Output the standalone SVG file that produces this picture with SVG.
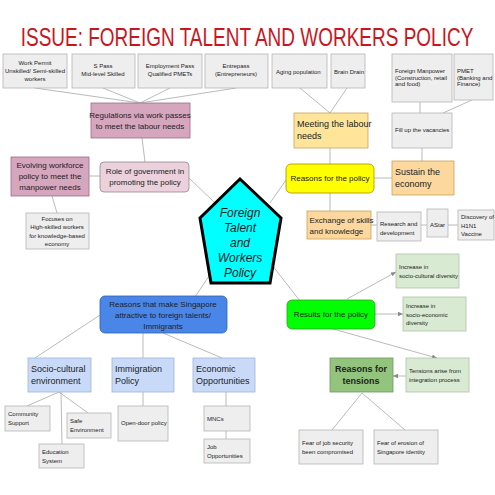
<svg xmlns="http://www.w3.org/2000/svg" width="495" height="495" viewBox="0 0 495 495">
<defs>
<style>
text{font-family:"Liberation Sans",Arial,sans-serif;fill:#222}
.s{font-size:6px}
.m{font-size:8px}
.l{font-size:9px}
.c{text-anchor:middle}
.g{fill:#eeeeee;stroke:#b5b5b5;stroke-width:0.8}
.pk{fill:#d5a6bd;stroke:#9c6d86;stroke-width:0.8}
.pl{fill:#ead1dc;stroke:#9c8590;stroke-width:0.8}
.or{fill:#fcd89e;stroke:#c9a35a;stroke-width:0.8}
.ye{fill:#ffe599;stroke:#c9a35a;stroke-width:0.8}
.lb{fill:#c9daf8;stroke:#9fb4d8;stroke-width:0.8}
.lg{fill:#d9ead3;stroke:#b0c2a8;stroke-width:0.8}
.cn line{stroke:#a8a8a8;stroke-width:0.8;fill:none}
</style>
<marker id="ah" markerWidth="6" markerHeight="6" refX="5" refY="3" orient="auto" markerUnits="userSpaceOnUse">
<path d="M0,0.8 L5,3 L0,5.2 z" fill="#888"/>
</marker>
</defs>
<rect width="495" height="495" fill="#ffffff"/>
<g transform="translate(247,46) scale(0.76,1)">
<text x="0" y="0" font-size="25" style="fill:#c8161e" class="c">ISSUE: FOREIGN TALENT AND WORKERS POLICY</text>
</g>

<g class="cn">
<line x1="35" y1="88" x2="140" y2="103"/>
<line x1="103" y1="88" x2="140" y2="103"/>
<line x1="170" y1="88" x2="140" y2="103"/>
<line x1="236" y1="88" x2="140" y2="103"/>
<line x1="142" y1="138" x2="145" y2="162"/>
<line x1="89" y1="176" x2="100" y2="176"/>
<line x1="52" y1="196" x2="57" y2="213"/>
<line x1="189" y1="178" x2="214" y2="202"/>
<line x1="300" y1="88" x2="330" y2="113"/>
<line x1="347" y1="88" x2="330" y2="113"/>
<line x1="330" y1="148" x2="330" y2="164"/>
<line x1="420" y1="102" x2="420" y2="113"/>
<line x1="472" y1="100" x2="443" y2="113"/>
<line x1="422" y1="148" x2="422" y2="161"/>
<line x1="374" y1="178" x2="392" y2="178"/>
<line x1="270" y1="203" x2="286" y2="180"/>
<line x1="330" y1="193" x2="330" y2="211"/>
<line x1="371" y1="225" x2="377" y2="225"/>
<line x1="421" y1="225" x2="427" y2="225"/>
<line x1="448" y1="225" x2="458" y2="225"/>
<line x1="272" y1="265" x2="300" y2="301"/>
<line x1="347" y1="299" x2="396" y2="272" marker-end="url(#ah)"/>
<line x1="375" y1="314" x2="403" y2="314" marker-end="url(#ah)"/>
<line x1="333" y1="329" x2="437" y2="358" marker-end="url(#ah)"/>
<line x1="406" y1="376" x2="393" y2="376" marker-end="url(#ah)"/>
<line x1="362" y1="393" x2="332" y2="430"/>
<line x1="362" y1="393" x2="405" y2="430"/>
<line x1="213" y1="270" x2="195" y2="297"/>
<line x1="100" y1="315" x2="35" y2="358"/>
<line x1="143" y1="333" x2="143" y2="358"/>
<line x1="163" y1="333" x2="222" y2="358"/>
<line x1="59" y1="392" x2="27" y2="406"/>
<line x1="59" y1="392" x2="88" y2="413"/>
<line x1="61" y1="392" x2="62" y2="444"/>
<line x1="143" y1="392" x2="143" y2="406"/>
<line x1="226" y1="392" x2="226" y2="406"/>
<line x1="226" y1="431" x2="226" y2="439"/>
</g>

<g id="work-permit"><rect class="g" x="3" y="54" width="64" height="34"/><text class="s c" x="35" y="65">Work Permit</text><text class="s c" x="35" y="73">Unskilled/ Semi-skilled</text><text class="s c" x="35" y="81">workers</text></g>
<g id="s-pass"><rect class="g" x="72" y="54" width="63" height="34"/><text class="s c" x="103" y="68">S Pass</text><text class="s c" x="103" y="76">Mid-level Skilled</text></g>
<g id="employment-pass"><rect class="g" x="138" y="54" width="64" height="34"/><text class="s c" x="170" y="68">Employment Pass</text><text class="s c" x="170" y="76">Qualified PMETs</text></g>
<g id="entrepass"><rect class="g" x="205" y="54" width="63" height="34"/><text class="s c" x="236" y="68">Entrepass</text><text class="s c" x="236" y="76">(Entrepreneurs)</text></g>
<g id="aging"><rect class="g" x="272" y="54" width="55" height="34"/><text class="s" x="276" y="74">Aging population</text></g>
<g id="brain-drain"><rect class="g" x="331" y="54" width="34" height="34"/><text class="s" x="334" y="74">Brain Drain</text></g>
<g id="foreign-manpower"><rect class="g" x="392" y="54" width="60" height="48"/><text class="s" x="395" y="73">Foreign Manpower</text><text class="s" x="395" y="79.5">(Construction, retail</text><text class="s" x="395" y="86">and food)</text></g>
<g id="pmet"><rect class="g" x="454" y="54" width="39" height="46"/><text class="s" x="457" y="73">PMET</text><text class="s" x="457" y="79.5">(Banking and</text><text class="s" x="457" y="86">Finance)</text></g>

<g id="regulations"><rect class="pk" x="91" y="103" width="99" height="35"/><text class="m c" x="140" y="118">Regulations via work passes</text><text class="m c" x="140" y="129">to meet the labour needs</text></g>
<g id="role"><rect class="pl" x="100" y="162" width="89" height="30" rx="4"/><text class="m c" x="145" y="174">Role of government in</text><text class="m c" x="145" y="185">promoting the policy</text></g>
<g id="evolving"><rect class="pk" x="11" y="157" width="78" height="39"/><text class="m c" x="50" y="168">Evolving workforce</text><text class="m c" x="50" y="179">policy to meet the</text><text class="m c" x="50" y="190">manpower needs</text></g>
<g id="focuses"><rect class="g" x="26" y="213" width="63" height="36"/><text class="s c" x="57" y="221">Focuses on</text><text class="s c" x="57" y="229">High-skilled workers</text><text class="s c" x="57" y="237.5">for  knowledge-based</text><text class="s c" x="57" y="246">economy</text></g>

<g id="center"><polygon points="240,179 281,218 270,283 211,283 200,218" fill="#00ffff" stroke="#000" stroke-width="3" stroke-linejoin="miter"/>
<text x="240" y="217" font-size="12" font-style="italic" class="c">Foreign</text><text x="240" y="232" font-size="12" font-style="italic" class="c">Talent</text><text x="240" y="247" font-size="12" font-style="italic" class="c">and</text><text x="240" y="262" font-size="12" font-style="italic" class="c">Workers</text><text x="240" y="277" font-size="12" font-style="italic" class="c">Policy</text></g>

<g id="meeting"><rect class="ye" x="294" y="113" width="74" height="35"/><text class="l" x="297" y="127">Meeting the labour</text><text class="l" x="297" y="139">needs</text></g>
<g id="fill"><rect class="g" x="392" y="113" width="60" height="35"/><text class="s" x="395" y="132">Fill up the vacancies</text></g>
<g id="reasons-policy"><rect x="286" y="164" width="88" height="29" rx="5" fill="#ffff00" stroke="#a89000" stroke-width="0.8"/><text class="m c" x="330" y="181">Reasons for the policy</text></g>
<g id="sustain"><rect class="or" x="392" y="161" width="62" height="34"/><text class="l" x="395" y="175">Sustain the</text><text class="l" x="395" y="187">economy</text></g>
<g id="exchange"><rect class="or" x="307" y="211" width="64" height="28"/><text x="309.5" y="223" font-size="8">Exchange of skills</text><text x="309.5" y="234" font-size="8">and knowledge</text></g>
<g id="research"><rect class="g" x="377" y="212" width="44" height="29"/><text class="s" x="380" y="226">Research and</text><text class="s" x="380" y="235">development</text></g>
<g id="astar"><rect class="g" x="427" y="209" width="21" height="28"/><text class="s" x="430" y="227">AStar</text></g>
<g id="discovery"><rect class="g" x="458" y="210" width="36" height="30"/><text class="s" x="461" y="219">Discovery of</text><text class="s" x="461" y="227.5">H1N1</text><text class="s" x="461" y="236">Vaccine</text></g>

<g id="socio-cultural-diversity"><rect class="lg" x="396" y="254" width="63" height="34"/><text class="s" x="399" y="269">Increase in</text><text class="s" x="399" y="278">socio-cultural  diversity</text></g>
<g id="socio-economic-diversity"><rect class="lg" x="403" y="297" width="63" height="34"/><text class="s" x="406" y="308">Increase in</text><text class="s" x="406" y="316.5">socio-economic</text><text class="s" x="406" y="325">diversity</text></g>
<g id="results"><rect x="287" y="300" width="88" height="29" rx="5" fill="#00ff00" stroke="#2e9e1e" stroke-width="0.8"/><text class="m c" x="331" y="317">Results for the policy</text></g>
<g id="reasons-tensions"><rect x="330" y="358" width="63" height="34" fill="#93c47d" stroke="#6f9a5e" stroke-width="0.8"/><text class="l c" x="361" y="372" font-weight="bold">Reasons for</text><text class="l c" x="361" y="384" font-weight="bold">tensions</text></g>
<g id="tensions-arise"><rect class="lg" x="406" y="358" width="63" height="34"/><text class="s" x="409" y="373">Tensions arise from</text><text class="s" x="409" y="382">integration process</text></g>
<g id="fear-job"><rect class="g" x="299" y="430" width="64" height="34"/><text class="s" x="302" y="445">Fear of job security</text><text class="s" x="302" y="454">been compromised</text></g>
<g id="fear-erosion"><rect class="g" x="374" y="430" width="64" height="34"/><text class="s" x="377" y="445">Fear of erosion of</text><text class="s" x="377" y="454">Singapore identity</text></g>

<g id="attractive"><rect x="100" y="296" width="127" height="37" rx="5" fill="#4a86e8" stroke="#2f5fb0" stroke-width="0.8"/><text class="m c" x="163" y="307">Reasons that make Singapore</text><text class="m c" x="163" y="318">attractive to foreign talents/</text><text class="m c" x="163" y="329">Immigrants</text></g>
<g id="socio-env"><rect class="lb" x="28" y="358" width="63" height="34"/><text class="l" x="31" y="372">Socio-cultural</text><text class="l" x="31" y="384">environment</text></g>
<g id="immigration"><rect class="lb" x="112" y="358" width="62" height="34"/><text class="l" x="115" y="372">Immigration</text><text class="l" x="115" y="384">Policy</text></g>
<g id="economic"><rect class="lb" x="193" y="358" width="62" height="34"/><text class="l" x="196" y="372">Economic</text><text class="l" x="196" y="384">Opportunities</text></g>
<g id="community"><rect class="g" x="5" y="406" width="45" height="25"/><text class="s" x="8" y="416">Community</text><text class="s" x="8" y="425">Support</text></g>
<g id="safe"><rect class="g" x="67" y="413" width="44" height="25"/><text class="s" x="70" y="423">Safe</text><text class="s" x="70" y="432">Environment</text></g>
<g id="education"><rect class="g" x="39" y="444" width="45" height="24"/><text class="s" x="42" y="454">Education</text><text class="s" x="42" y="463">System</text></g>
<g id="open-door"><rect class="g" x="118" y="406" width="50" height="35"/><text class="s" x="121" y="425">Open-door policy</text></g>
<g id="mncs"><rect class="g" x="204" y="406" width="46" height="25"/><text class="s" x="207" y="421">MNCs</text></g>
<g id="job"><rect class="g" x="204" y="439" width="46" height="24"/><text class="s" x="207" y="449">Job</text><text class="s" x="207" y="458">Opportunities</text></g>
</svg>
